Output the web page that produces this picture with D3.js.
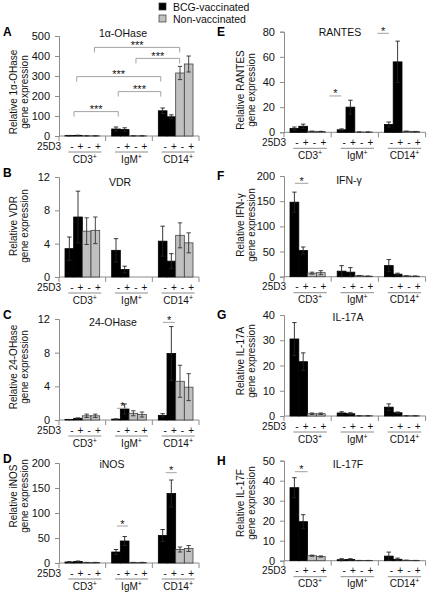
<!DOCTYPE html>
<html><head><meta charset="utf-8">
<script src="https://cdn.jsdelivr.net/npm/d3@7"></script>
<style>
body{margin:0;background:#fff;}
svg{display:block;font-family:"Liberation Sans",Arial,sans-serif;}
</style></head><body>
<svg id="c" width="430" height="594"></svg>
<script>
// ---------- data ----------
const groups = ["CD3", "IgM", "CD14"];
const treatments = ["-", "+", "-", "+"];
const seriesNames = ["BCG-vaccinated", "Non-vaccinated"];
// order of 12 values: per group [BCG -, BCG +, Non -, Non +]
const ohase1Mean = [2, 3, 1, 1, 35, 32, 1, 1, 126, 96, 315, 360];
const ohase1Err  = [1, 1, 0.5, 0.5, 10, 9, 0.5, 0.5, 14, 10, 33, 40];
const vdrMean    = [3.4, 7.2, 5.5, 5.6, 3.2, 0.9, 0, 0, 4.3, 1.9, 5.0, 4.1];
const vdrErr     = [1.4, 3.1, 1.6, 1.6, 1.4, 0.4, 0, 0, 1.8, 0.9, 1.5, 1.2];
const ohase24Mean= [0.05, 0.2, 0.5, 0.5, 0.1, 1.3, 0.8, 0.65, 0.55, 7.9, 4.6, 3.9];
const ohase24Err = [0.02, 0.05, 0.2, 0.2, 0.03, 0.6, 0.3, 0.3, 0.2, 3.2, 1.9, 1.6];
const inosMean   = [2, 3, 1, 1, 22, 44, 1, 1, 55, 139, 27, 29];
const inosErr    = [0.5, 1, 0.3, 0.3, 5, 9, 0.3, 0.3, 12, 27, 5, 6];
const rantesMean = [3, 4.8, 0.8, 0.7, 2, 20, 0.2, 0.2, 6.2, 56, 0.8, 0.6];
const rantesErr  = [1.2, 1.7, 0.1, 0.1, 0.7, 5.5, 0.05, 0.05, 2, 16.5, 0.1, 0.1];
const ifngMean   = [148, 52, 7, 8, 11, 9, 2, 1, 22, 5, 1.5, 1];
const ifngErr    = [20, 7, 2, 4, 11, 9, 0.5, 0.3, 12, 2, 0.3, 0.3];
const il17aMean  = [30.5, 21.5, 0.9, 0.9, 1.2, 0.9, 0.1, 0.1, 3.5, 1.3, 0.1, 0.1];
const il17aErr   = [6.5, 3.5, 0.3, 0.3, 0.5, 0.4, 0.05, 0.05, 1.3, 0.3, 0.05, 0.05];
const il17fMean  = [36.5, 19.5, 2.5, 2.1, 0.5, 0.6, 0.1, 0.1, 2.3, 0.7, 0.2, 0.1];
const il17fErr   = [5, 3.5, 0.3, 0.3, 0.5, 0.4, 0.05, 0.05, 2, 0.6, 0.05, 0.05];
const ticksA = [0, 100, 200, 300, 400, 500];
const ticksB = [0, 4, 8, 12];
const ticksC = [0, 4, 8, 12];
const ticksD = [0, 50, 100, 150, 200];
const ticksE = [0, 20, 40, 60, 80];
const ticksF = [0, 50, 100, 150, 200];
const ticksG = [0, 10, 20, 30, 40];
const ticksH = [0, 10, 20, 30, 40, 50];
// significance brackets in A: [group, subposition, group, subposition, y value, label]
const bracketsA = [
  [0, 2.9, 2, 1.96, 443, "***"],
  [1, 2.3, 2, 1.96, 388, "***"],
  [0, 0.85, 2, -0.22, 297, "***"],
  [1, 0.26, 2, -0.22, 222, "***"],
  [0, 0.54, 1, 0.26, 122, "***"]
];
// single star marks: [group, from sub, to sub, y value]
const starsC = [[1, 0.11, 1.38, 1.39], [2, 0.04, 1.43, 11.6]];
const starsD = [[1, 0.11, 1.38, 74], [2, 0.35, 1.62, 180.6]];
const starsE = [[1, -1.37, -0.04, 28.9], [2, -1.3, 0.01, 78.7]];
const starsF = [[0, 0.06, 1.58, 185.5]];
const starsH = [[0, 0.06, 1.51, 44.5]];

// ---------- layout ----------
const L = {x0: 59, x1: 199}, R = {x0: 284, x1: 425.6};
const panels = [
  {letter:"A", title:"1α-OHase", lab:"Relative 1α-OHase", mean:ohase1Mean, err:ohase1Err, ticks:ticksA, col:L, y0:136, y1:36, tx:123, ty:37, ly:92, brackets:bracketsA, stars:[]},
  {letter:"B", title:"VDR", lab:"Relative VDR", mean:vdrMean, err:vdrErr, ticks:ticksB, col:L, y0:277, y1:177, tx:120, ty:185.5, ly:226, stars:[]},
  {letter:"C", title:"24-OHase", lab:"Relative 24-OHase", mean:ohase24Mean, err:ohase24Err, ticks:ticksC, col:L, y0:420, y1:319, tx:113, ty:325.5, ly:367, stars:starsC},
  {letter:"D", title:"iNOS", lab:"Relative iNOS", mean:inosMean, err:inosErr, ticks:ticksD, col:L, y0:563, y1:463, tx:112, ty:468, ly:496, stars:starsD},
  {letter:"E", title:"RANTES", lab:"Relative RANTES", mean:rantesMean, err:rantesErr, ticks:ticksE, col:R, y0:132.3, y1:31.7, tx:340, ty:35.5, ly:90, stars:starsE},
  {letter:"F", title:"IFN-γ", lab:"Relative IFN-γ", mean:ifngMean, err:ifngErr, ticks:ticksF, col:R, y0:276.7, y1:176, tx:349, ty:184, ly:225, stars:starsF},
  {letter:"G", title:"IL-17A", lab:"Relative IL-17A", mean:il17aMean, err:il17aErr, ticks:ticksG, col:R, y0:416, y1:315, tx:348, ty:321, ly:361, stars:[]},
  {letter:"H", title:"IL-17F", lab:"Relative IL-17F", mean:il17fMean, err:il17fErr, ticks:ticksH, col:R, y0:560.7, y1:460.7, tx:348, ty:468, ly:503, stars:starsH}
];
const fills = ["#000000", "#c0c0c0"];
const axisCol = "#8c8c8c";

const svg = d3.select("#c");

// legend
const leg = svg.append("g");
seriesNames.forEach((s, i) => {
  leg.append("rect").attr("x", 159).attr("y", 3 + i*12).attr("width", 7).attr("height", 7)
    .attr("fill", fills[i]).attr("stroke", "#333").attr("stroke-width", 0.7);
  leg.append("text").attr("x", 173).attr("y", 10.5 + i*12).attr("font-size", 10.5).attr("fill", "#111").text(s);
});

panels.forEach(p => {
  const g = svg.append("g");
  const xo = d3.scaleBand().domain(groups).range([p.col.x0, p.col.x1]).paddingInner(0).paddingOuter(0);
  const pad = 6;
  const xi = d3.scaleBand().domain(d3.range(4)).range([pad, xo.bandwidth() - pad]).padding(0);
  const bw = xi.bandwidth();
  const ymax = p.ticks[p.ticks.length - 1];
  const y = d3.scaleLinear().domain([0, ymax]).range([p.y0, p.y1]);
  const xAt = (gi, s) => xo(groups[gi]) + pad + (s + 0.5) * bw;

  // y axis
  const ya = d3.axisLeft(y).tickValues(p.ticks).tickSize(4).tickPadding(5).tickFormat(d3.format("d"));
  const yg = g.append("g").attr("transform", `translate(${p.col.x0},0)`).call(ya);
  yg.select(".domain").attr("stroke", axisCol);
  yg.selectAll(".tick line").attr("stroke", axisCol);
  yg.selectAll(".tick text").attr("font-size", 11).attr("fill", "#111").attr("font-family", '"Liberation Sans",Arial,sans-serif');

  // x axis line and separators
  g.append("line").attr("x1", p.col.x0).attr("x2", p.col.x1).attr("y1", p.y0).attr("y2", p.y0).attr("stroke", axisCol);
  groups.concat(["end"]).forEach((c, i) => {
    const xx = i < 3 ? xo(c) : p.col.x1;
    g.append("line").attr("x1", xx).attr("x2", xx).attr("y1", p.y0).attr("y2", p.y0 + 5).attr("stroke", axisCol);
  });

  // bars
  const data = p.mean.map((v, i) => ({v, e: p.err[i], gi: Math.floor(i/4), si: i % 4}));
  g.selectAll("rect.bar").data(data).enter().append("rect")
    .attr("x", d => xo(groups[d.gi]) + xi(d.si))
    .attr("width", bw)
    .attr("y", d => y(d.v))
    .attr("height", d => y(0) - y(d.v))
    .attr("fill", d => fills[d.si < 2 ? 0 : 1])
    .attr("stroke", d => d.si < 2 ? "#000" : "#444")
    .attr("stroke-width", 0.8);
  // error bars
  data.forEach(d => {
    if (d.e <= 0) return;
    const cx = xo(groups[d.gi]) + xi(d.si) + bw/2;
    const col = d.si < 2 ? "#222" : "#333";
    const top = y(d.v + d.e), bot = y(Math.max(0, d.v - d.e));
    g.append("line").attr("x1", cx).attr("x2", cx).attr("y1", top).attr("y2", bot).attr("stroke", col).attr("stroke-width", 0.9);
    [top, bot].forEach(yy => g.append("line").attr("x1", cx - 2.2).attr("x2", cx + 2.2).attr("y1", yy).attr("y2", yy).attr("stroke", col).attr("stroke-width", 0.9));
  });

  // treatment signs & labels
  g.append("text").attr("x", p.col.x0 + 2).attr("y", p.y0 + 13.5).attr("text-anchor", "end").attr("font-size", 10).attr("fill", "#111").text("25D3");
  groups.forEach((c, gi) => {
    treatments.forEach((t, si) => {
      g.append("text").attr("x", xAt(gi, si) + 2.5).attr("y", p.y0 + 13.5).attr("text-anchor", "middle")
        .attr("font-size", 10).attr("fill", "#111").text(t);
    });
    const ux0 = xAt(gi, 0) - 1, ux1 = xAt(gi, 3) + 6;
    g.append("line").attr("x1", ux0).attr("x2", ux1).attr("y1", p.y0 + 16).attr("y2", p.y0 + 16).attr("stroke", axisCol);
    const lt = g.append("text").attr("x", (ux0 + ux1)/2).attr("y", p.y0 + 26.5).attr("text-anchor", "middle")
      .attr("font-size", 10).attr("fill", "#111");
    lt.append("tspan").text(c);
    lt.append("tspan").attr("font-size", 7).attr("dy", -4).text("+");
  });

  // title, letter, y label
  g.append("text").attr("x", p.tx).attr("y", p.ty).attr("text-anchor", "middle").attr("font-size", 10.5).attr("fill", "#111").text(p.title);
  g.append("text").attr("x", p.col === L ? 3 : 217).attr("y", p.y1 + (p.col === L ? 0 : 4)).attr("font-size", 12).attr("font-weight", "bold").attr("fill", "#000").text(p.letter);
  const lx = p.col === L ? 13 : 240;
  [p.lab, "gene expression"].forEach((t, k) => {
    g.append("text").attr("transform", `translate(${lx + k*11 + 3.5},${p.ly}) rotate(-90)`).attr("text-anchor", "middle")
      .attr("font-size", 10).attr("fill", "#111").text(t);
  });

  // brackets
  (p.brackets || []).forEach(b => {
    const xa = xAt(b[0], b[1]), xb = xAt(b[2], b[3]), yy = y(b[4]);
    g.append("path").attr("d", `M${xa},${yy + 5}V${yy}H${xb}V${yy + 5}`).attr("fill", "none").attr("stroke", "#999").attr("stroke-width", 0.9);
    g.append("text").attr("x", (xa + xb)/2).attr("y", yy + 1.5).attr("text-anchor", "middle").attr("font-size", 11).attr("fill", "#111").text(b[5]);
  });
  p.stars.forEach(s => {
    const xa = xAt(s[0], s[1]), xb = xAt(s[0], s[2]), yy = y(s[3]);
    g.append("line").attr("x1", xa).attr("x2", xb).attr("y1", yy).attr("y2", yy).attr("stroke", "#999").attr("stroke-width", 0.9);
    g.append("text").attr("x", (xa + xb)/2).attr("y", yy + 1.5).attr("text-anchor", "middle").attr("font-size", 11).attr("fill", "#111").text("*");
  });
});
</script>
</body></html>
